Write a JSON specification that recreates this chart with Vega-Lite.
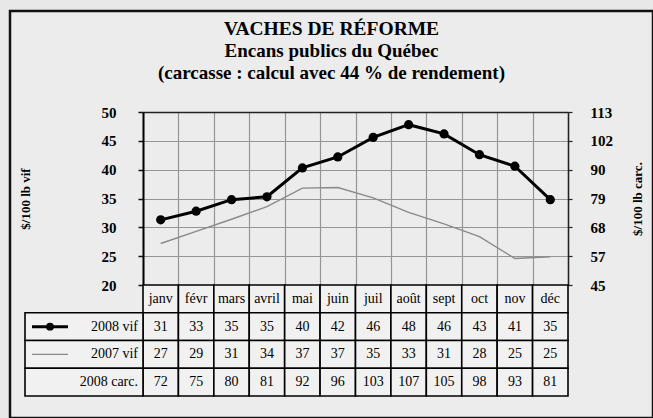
{
  "$schema": "https://vega.github.io/schema/vega-lite/v6.json",
  "width": 643,
  "height": 407,
  "autosize": "none",
  "padding": {"left": 10, "top": 11, "right": 0, "bottom": 0},
  "background": "#e8e8e8",
  "config": {
    "view": {"stroke": "#111", "strokeWidth": 2.5, "fill": "#ececec"},
    "font": "Liberation Serif",
    "axis": {"labelFont": "Liberation Serif", "titleFont": "Liberation Serif"}
  },
  "title": {
    "text": "VACHES DE RÉFORME",
    "subtitle": ["Encans publics du Québec", "(carcasse : calcul avec 44 % de rendement)"],
    "anchor": "middle",
    "frame": "group",
    "offset": -73,
    "font": "Liberation Serif",
    "fontSize": 19.5,
    "fontWeight": "bold",
    "color": "#000",
    "subtitleFont": "Liberation Serif",
    "subtitleFontSize": 19,
    "subtitleFontWeight": "bold",
    "subtitleColor": "#000",
    "subtitlePadding": 3,
    "subtitleLineHeight": 22
  },
  "datasets": {
    "mois": [
      {"mois": "janv", "vif2008": 31.3, "vif2007": 27.2, "carc2008": 72},
      {"mois": "févr", "vif2008": 32.8, "vif2007": 29.3, "carc2008": 75},
      {"mois": "mars", "vif2008": 34.8, "vif2007": 31.4, "carc2008": 80},
      {"mois": "avril", "vif2008": 35.3, "vif2007": 33.6, "carc2008": 81},
      {"mois": "mai", "vif2008": 40.3, "vif2007": 36.8, "carc2008": 92},
      {"mois": "juin", "vif2008": 42.2, "vif2007": 36.9, "carc2008": 96},
      {"mois": "juil", "vif2008": 45.6, "vif2007": 35.1, "carc2008": 103},
      {"mois": "août", "vif2008": 47.8, "vif2007": 32.6, "carc2008": 107},
      {"mois": "sept", "vif2008": 46.2, "vif2007": 30.6, "carc2008": 105},
      {"mois": "oct", "vif2008": 42.6, "vif2007": 28.4, "carc2008": 98},
      {"mois": "nov", "vif2008": 40.6, "vif2007": 24.6, "carc2008": 93},
      {"mois": "déc", "vif2008": 34.8, "vif2007": 24.9, "carc2008": 81}
    ],
    "series": [
      {"serie": "vif2008", "libelle": "2008 vif"},
      {"serie": "vif2007", "libelle": "2007 vif"},
      {"serie": "carc2008", "libelle": "2008 carc."}
    ]
  },
  "resolve": {"scale": {"x": "independent", "y": "independent"}},
  "layer": [
    {
      "data": {"name": "mois"},
      "transform": [{"fold": ["vif2007", "vif2008"], "as": ["serie", "valeur"]}],
      "mark": {"type": "line"},
      "encoding": {
        "x": {"field": "mois", "type": "nominal",
          "scale": {"type": "band", "domain": ["janv","févr","mars","avril","mai","juin","juil","août","sept","oct","nov","déc"], "range": [133, 558], "paddingInner": 0, "paddingOuter": 0},
          "axis": {"orient": "top", "offset": -101, "labels": false, "ticks": false, "domain": true, "domainColor": "#222", "domainWidth": 1.5, "grid": true, "gridColor": "#959595", "gridWidth": 1.2, "tickBand": "extent", "title": null}},
        "y": {"field": "valeur", "type": "quantitative",
          "scale": {"domain": [20, 50], "range": [274, 101], "nice": false, "zero": false},
          "axis": {"orient": "left", "offset": -133, "values": [20,25,30,35,40,45,50], "title": "$/100 lb vif", "titleFontSize": 13, "titleFontWeight": "bold", "titleColor": "#000", "titlePadding": 69, "labelFontSize": 15, "labelFontWeight": "bold", "labelColor": "#000", "labelPadding": 22, "tickSize": 5, "tickColor": "#111", "tickWidth": 1.5, "domainColor": "#000", "domainWidth": 2, "grid": true, "gridColor": "#959595", "gridWidth": 1.2}},
        "color": {"field": "serie", "type": "nominal", "scale": {"domain": ["vif2007", "vif2008"], "range": ["#8a8a8a", "#000000"]}, "legend": null},
        "strokeWidth": {"field": "serie", "type": "nominal", "scale": {"domain": ["vif2007", "vif2008"], "range": [1.4, 3]}, "legend": null}
      }
    },
    {
      "data": {"name": "mois"},
      "mark": {"type": "point", "filled": true, "color": "#000", "size": 85, "opacity": 1},
      "encoding": {
        "x": {"field": "mois", "type": "nominal",
          "scale": {"type": "band", "domain": ["janv","févr","mars","avril","mai","juin","juil","août","sept","oct","nov","déc"], "range": [133, 558], "paddingInner": 0, "paddingOuter": 0},
          "axis": null},
        "y": {"field": "vif2008", "type": "quantitative",
          "scale": {"domain": [20, 50], "range": [274, 101], "nice": false, "zero": false},
          "axis": {"orient": "right", "offset": -85, "values": [20,25,30,35,40,45,50],
            "labelExpr": "datum.value == 50 ? '113' : datum.value == 45 ? '102' : datum.value == 40 ? '90' : datum.value == 35 ? '79' : datum.value == 30 ? '68' : datum.value == 25 ? '57' : '45'",
            "title": "$/100 lb carc.", "titleAngle": 270, "titleBaseline": "top", "titleFontSize": 13, "titleFontWeight": "bold", "titleColor": "#000", "titlePadding": 19,
            "labelFontSize": 15, "labelFontWeight": "bold", "labelColor": "#000", "labelPadding": 18, "labelAlign": "left",
            "tickSize": 4, "tickColor": "#222", "tickWidth": 1.2, "domainColor": "#222", "domainWidth": 1.5, "grid": false}}
      }
    },
    {
      "data": {"name": "mois"},
      "layer": [
        {
          "mark": {"type": "rect", "fill": "#f1f1f1", "stroke": "#000", "strokeWidth": 1.6},
          "encoding": {
            "x": {"field": "mois", "type": "nominal",
              "scale": {"type": "band", "domain": ["janv","févr","mars","avril","mai","juin","juil","août","sept","oct","nov","déc"], "range": [133, 558], "paddingInner": 0, "paddingOuter": 0},
              "axis": null},
            "y": {"datum": "mois", "type": "nominal",
              "scale": {"type": "band", "domain": ["mois","vif2008","vif2007","carc2008"], "range": [274, 385], "paddingInner": 0, "paddingOuter": 0},
              "axis": null}
          }
        },
        {
          "mark": {"type": "text", "fontSize": 14, "color": "#000"},
          "encoding": {
            "x": {"field": "mois", "type": "nominal", "axis": null},
            "y": {"datum": "mois", "type": "nominal", "axis": null},
            "text": {"field": "mois", "type": "nominal"}
          }
        },
        {
          "transform": [{"fold": ["vif2008", "vif2007", "carc2008"], "as": ["serie", "valeur"]}],
          "layer": [
            {
              "mark": {"type": "rect", "fill": "#f1f1f1", "stroke": "#000", "strokeWidth": 1.6},
              "encoding": {
                "x": {"field": "mois", "type": "nominal", "axis": null},
                "y": {"field": "serie", "type": "nominal", "axis": null}
              }
            },
            {
              "mark": {"type": "text", "fontSize": 14, "color": "#000"},
              "encoding": {
                "x": {"field": "mois", "type": "nominal", "axis": null},
                "y": {"field": "serie", "type": "nominal", "axis": null},
                "text": {"field": "valeur", "type": "quantitative", "format": ".0f"}
              }
            }
          ]
        }
      ]
    },
    {
      "data": {"name": "series"},
      "layer": [
        {
          "mark": {"type": "rect", "fill": "#f1f1f1", "stroke": "#000", "strokeWidth": 1.6},
          "encoding": {
            "x": {"datum": "séries", "type": "nominal",
              "scale": {"type": "band", "domain": ["séries"], "range": [15, 133], "paddingInner": 0, "paddingOuter": 0},
              "axis": null},
            "y": {"field": "serie", "type": "nominal",
              "scale": {"type": "band", "domain": ["mois","vif2008","vif2007","carc2008"], "range": [274, 385], "paddingInner": 0, "paddingOuter": 0},
              "axis": null}
          }
        },
        {
          "mark": {"type": "text", "fontSize": 14, "color": "#000", "align": "right", "dx": 54},
          "encoding": {
            "x": {"datum": "séries", "type": "nominal", "axis": null},
            "y": {"field": "serie", "type": "nominal", "axis": null},
            "text": {"field": "libelle", "type": "nominal"}
          }
        },
        {
          "transform": [{"filter": "datum.serie == 'vif2008'"}],
          "mark": {"type": "point", "shape": "stroke", "filled": false, "stroke": "#000", "strokeWidth": 3, "size": 1296, "xOffset": -34, "opacity": 1},
          "encoding": {
            "x": {"datum": "séries", "type": "nominal", "axis": null},
            "y": {"field": "serie", "type": "nominal", "axis": null}
          }
        },
        {
          "transform": [{"filter": "datum.serie == 'vif2008'"}],
          "mark": {"type": "point", "shape": "circle", "filled": true, "color": "#000", "size": 60, "xOffset": -34, "opacity": 1},
          "encoding": {
            "x": {"datum": "séries", "type": "nominal", "axis": null},
            "y": {"field": "serie", "type": "nominal", "axis": null}
          }
        },
        {
          "transform": [{"filter": "datum.serie == 'vif2007'"}],
          "mark": {"type": "point", "shape": "stroke", "filled": false, "stroke": "#8a8a8a", "strokeWidth": 1.4, "size": 1296, "xOffset": -34, "opacity": 1},
          "encoding": {
            "x": {"datum": "séries", "type": "nominal", "axis": null},
            "y": {"field": "serie", "type": "nominal", "axis": null}
          }
        }
      ]
    }
  ]
}
